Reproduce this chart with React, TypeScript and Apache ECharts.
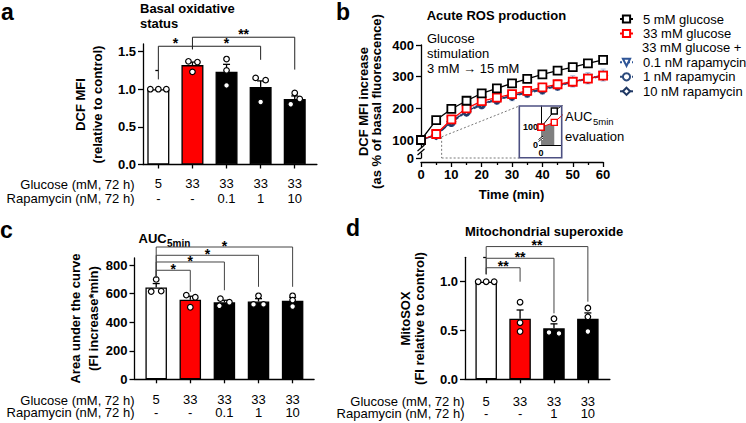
import React, { useEffect, useRef } from 'react';
import * as echarts from 'echarts';

const FONT = '"Liberation Sans", Arial, Helvetica, sans-serif';

// ---------- panel a : basal oxidative status ----------
const aGlucose = ['5', '33', '33', '33', '33'];
const aRapamycin = ['-', '-', '0.1', '1', '10'];
const aMean = [1.0, 1.32, 1.23, 1.03, 0.87];
const aSem = [0, 0.04, 0.1, 0.08, 0.04];
const aPoints = [
  [1.0, 1.0, 1.0],
  [1.37, 1.36, 1.23],
  [1.4, 1.25, 1.05],
  [1.15, 1.12, 0.83],
  [0.95, 0.87, 0.8],
];
const aYTicks = [0, 0.5, 1.0, 1.5];
const aYMinor = [0.25, 0.75, 1.25];

// ---------- panel b : acute ROS production ----------
const bTime = [0, 5, 10, 15, 20, 25, 30, 35, 40, 45, 50, 55, 60];
const bG5 = [100, 163, 198, 224, 247, 263, 279, 293, 307, 319, 330, 342, 353];
const bG33 = [100, 119, 165, 200, 223, 234, 245, 255, 266, 276, 284, 294, 303];
const bR01 = [100, 117, 160, 193, 216, 229, 240, 250, 262, 274, 285, 295, 305];
const bR1 = [100, 115, 155, 188, 211, 226, 238, 248, 258, 270, 282, 292, 302];
const bR10 = [100, 116, 158, 190, 214, 228, 240, 251, 261, 272, 284, 294, 304];
const bSemG5 = [0, 6, 7, 8, 9, 9, 10, 10, 11, 11, 12, 12, 12];
const bSemG33 = [0, 5, 6, 7, 8, 8, 9, 9, 10, 10, 11, 11, 12];
const bSemR = [0, 8, 12, 14, 15, 15, 16, 16, 17, 17, 18, 18, 19];
const bYTicks = [43.2, 100, 200, 300, 400];
const bNames = ['5 mM glucose', '33 mM glucose', '0.1 nM rapamycin', '1 nM rapamycin', '10 nM rapamycin'];

// ---------- panel c : AUC 5 min ----------
const cGlucose = ['5', '33', '33', '33', '33'];
const cRapamycin = ['-', '-', '0.1', '1', '10'];
const cMean = [644, 557, 540, 545, 550];
const cSem = [27, 25, 14, 20, 25];
const cPoints = [
  [700, 615, 618],
  [590, 575, 505],
  [565, 540, 515],
  [585, 525, 525],
  [585, 555, 510],
];
const cYTicks = [0, 200, 400, 600, 800];
const cYMinor = [100, 300, 500, 700];

// ---------- panel d : mitochondrial superoxide ----------
const dGlucose = ['5', '33', '33', '33'];
const dRapamycin = ['-', '-', '1', '10'];
const dMean = [1.0, 0.62, 0.523, 0.62];
const dSem = [0, 0.09, 0.045, 0.06];
const dPoints = [
  [1.0, 1.0, 1.0],
  [0.79, 0.58, 0.49],
  [0.62, 0.48, 0.47],
  [0.73, 0.64, 0.49],
];
const dYTicks = [0, 0.5, 1.0];
const dYMinor = [0.25, 0.75, 1.25];

// ---------- layout / style helpers (not data) ----------
const aJitter = [[-8, 0, 8], [-4, 5, 0], [0, 0, 0], [-5, 5, 0], [0, 5, -4]];
const cJitter = [[0, -5, 5], [-4, 5, 0], [-4, 5, -5], [0, -5, 5], [0, 0, 0]];
const dJitter = [[-8, 0, 8], [0, 0, 0], [0, -5, 5], [0, 0, 0]];
const barFill5 = ['#ffffff', '#ff0000', '#000000', '#000000', '#000000'];
const barFill4 = ['#ffffff', '#ff0000', '#000000', '#000000'];

const aBrackets = [
  { x1: 0, x2: 1, y: 1.57, l: 1.13, r: 1.53, label: '*' },
  { x1: 1, x2: 3, y: 1.57, l: 1.57, r: 1.39, label: '*' },
  { x1: 1, x2: 4, y: 1.69, l: 1.53, r: 1.26, label: '**' },
];
const cBrackets = [
  { x1: 0, x2: 1, y: 764, l: 710, r: 613, label: '*' },
  { x1: 0, x2: 2, y: 822, l: 710, r: 624, label: '*' },
  { x1: 0, x2: 3, y: 869, l: 710, r: 648, label: '*' },
  { x1: 0, x2: 4, y: 927, l: 710, r: 648, label: '*' },
];
const dBrackets = [
  { x1: 0, x2: 1, y: 1.143, l: 1.076, r: 1.0, label: '**' },
  { x1: 0, x2: 2, y: 1.24, l: 1.076, r: 0.676, label: '**' },
  { x1: 0, x2: 3, y: 1.36, l: 1.076, r: 0.795, label: '**' },
];

const AX = { color: '#000', width: 1.3 };

function catXAxis(gridIndex: number, min: number, max: number, g: string[], r: string[], margin: number, lh: number) {
  const idx = g.map((_, i) => i);
  return {
    type: 'value', gridIndex, min, max,
    axisLine: { show: true, onZero: false, lineStyle: AX },
    axisTick: { show: true, length: 4, customValues: idx, lineStyle: AX },
    axisLabel: {
      show: true, customValues: idx, margin, lineHeight: lh,
      formatter: (v: number) => `${g[Math.round(v)]}\n${r[Math.round(v)]}`,
      fontFamily: FONT, fontSize: 13, color: '#000',
    },
    splitLine: { show: false },
  };
}

function valYAxis(gridIndex: number, min: number, max: number, ticks: number[], fmt: (v: number) => string) {
  return {
    type: 'value', gridIndex, min, max,
    axisLine: { show: true, onZero: false, lineStyle: AX },
    axisTick: { show: true, length: 5, customValues: ticks, lineStyle: AX },
    axisLabel: { show: true, customValues: ticks, formatter: fmt, margin: 7, fontFamily: FONT, fontSize: 13, fontWeight: 'bold', color: '#000' },
    splitLine: { show: false },
  };
}

function minorYAxis(gridIndex: number, min: number, max: number, ticks: number[]) {
  return {
    type: 'value', gridIndex, min, max, position: 'left',
    axisLine: { show: false },
    axisTick: { show: true, length: 3, customValues: ticks, lineStyle: AX },
    axisLabel: { show: false },
    splitLine: { show: false },
  };
}

function barSeries(xi: number, yi: number, mean: number[], fills: string[], width: number) {
  return {
    type: 'bar', xAxisIndex: xi, yAxisIndex: yi, barWidth: width, z: 2,
    data: mean.map((m, i) => ({ value: [i, m], itemStyle: { color: fills[i], borderColor: '#000', borderWidth: 1.3 } })),
  };
}

function errSeries(xi: number, yi: number, xs: number[], mean: number[], sem: number[], color: string, cap: number, both: boolean, lw: number) {
  return {
    type: 'custom', xAxisIndex: xi, yAxisIndex: yi, z: 3, silent: true,
    data: mean.map((m, i) => [xs[i], m, sem[i]]),
    renderItem: (_p: any, api: any) => {
      const x = api.value(0), m = api.value(1), s = api.value(2);
      if (!s) return { type: 'group', children: [] };
      const pt = api.coord([x, m + s]);
      const pb = api.coord([x, both ? m - s : m]);
      const ch: any[] = [
        { type: 'line', shape: { x1: pb[0], y1: pb[1], x2: pt[0], y2: pt[1] }, style: { stroke: color, lineWidth: lw } },
        { type: 'line', shape: { x1: pt[0] - cap, y1: pt[1], x2: pt[0] + cap, y2: pt[1] }, style: { stroke: color, lineWidth: lw } },
      ];
      if (both) ch.push({ type: 'line', shape: { x1: pb[0] - cap, y1: pb[1], x2: pb[0] + cap, y2: pb[1] }, style: { stroke: color, lineWidth: lw } });
      return { type: 'group', children: ch };
    },
  };
}

function dotSeries(xi: number, yi: number, pts: number[][], jit: number[][]) {
  const data: number[][] = [];
  pts.forEach((arr, i) => arr.forEach((v, j) => data.push([i, v, jit[i][j]])));
  return {
    type: 'custom', xAxisIndex: xi, yAxisIndex: yi, z: 4, silent: true,
    data,
    renderItem: (_p: any, api: any) => {
      const p = api.coord([api.value(0), api.value(1)]);
      return { type: 'circle', shape: { cx: p[0] + api.value(2), cy: p[1], r: 2.8 }, style: { fill: '#fff', stroke: '#000', lineWidth: 1.2 } };
    },
  };
}

function lineSeries(name: string, values: number[], color: string, symbol: string, type: string, rotate = 0, size = 8) {
  return {
    name, type: 'line', xAxisIndex: 1, yAxisIndex: 1, z: 5,
    data: values.map((v, i) => [bTime[i], v]),
    symbol, symbolSize: size, symbolRotate: rotate,
    lineStyle: { color, width: 1.3, type },
    itemStyle: { color: '#fff', borderColor: color, borderWidth: 1.8 },
  };
}

function txt(text: string, x: number, y: number, o: any = {}) {
  return {
    type: 'text', x, y, z: 100, silent: true, rotation: o.rot || 0,
    style: {
      text, fill: '#000', fontFamily: FONT, fontSize: o.size || 13,
      fontWeight: o.bold ? 'bold' : 'normal', align: o.align || 'left', verticalAlign: 'middle',
    },
  };
}

function seg(x1: number, y1: number, x2: number, y2: number, stroke = '#000', lw = 1, dash?: number[]) {
  return { type: 'line', z: 100, silent: true, shape: { x1, y1, x2, y2 }, style: { stroke, lineWidth: lw, lineDash: dash } };
}

export default function App() {
  const ref = useRef<HTMLDivElement>(null);
  useEffect(() => {
    if (!ref.current) return;
    const chart = echarts.init(ref.current, null, { renderer: 'svg' });
    const fmt1 = (v: number) => v.toFixed(1);
    const option: any = {
      animation: false,
      backgroundColor: '#fff',
      textStyle: { fontFamily: FONT },
      grid: [
        { left: 143, top: 44, width: 173.9, height: 120.5, outerBoundsMode: 'none', containLabel: false },
        { left: 421, top: 45, width: 182.1, height: 113, outerBoundsMode: 'none', containLabel: false },
        { left: 134.5, top: 258, width: 179.6, height: 121.3, outerBoundsMode: 'none', containLabel: false },
        { left: 465, top: 257.3, width: 144.9, height: 122, outerBoundsMode: 'none', containLabel: false },
        { left: 541, top: 106, width: 20.7, height: 39, outerBoundsMode: 'none', containLabel: false },
      ],
      xAxis: [
        catXAxis(0, -0.45, 4.65, aGlucose, aRapamycin, 12.3, 14.3),
        {
          type: 'value', gridIndex: 1, min: 0, max: 60, interval: 10, offset: 4,
          axisLine: { show: true, onZero: false, lineStyle: AX },
          axisTick: { show: true, length: 5, lineStyle: AX },
          minorTick: { show: true, splitNumber: 2, length: 3, lineStyle: AX },
          axisLabel: { margin: 6, fontFamily: FONT, fontSize: 13, fontWeight: 'bold', color: '#000' },
          splitLine: { show: false },
        },
        catXAxis(2, -0.636, 4.63, cGlucose, cRapamycin, 14.5, 12.3),
        catXAxis(3, -0.625, 3.65, dGlucose, dRapamycin, 16.6, 11.6),
        {
          type: 'value', gridIndex: 4, min: 0, max: 7.8,
          axisLine: { show: true, onZero: false, lineStyle: { color: '#000', width: 1 } },
          axisTick: { show: false },
          axisLabel: { customValues: [0], formatter: () => '0', margin: 3, fontFamily: FONT, fontSize: 9, fontWeight: 'bold', color: '#000' },
          splitLine: { show: false },
        },
      ],
      yAxis: [
        valYAxis(0, 0, 1.6, aYTicks, fmt1),
        valYAxis(1, 43.2, 400, bYTicks, (v: number) => (v < 50 ? '0' : String(Math.round(v)))),
        valYAxis(2, 0, 850, cYTicks, (v: number) => String(v)),
        valYAxis(3, 0, 1.25, dYTicks, fmt1),
        {
          type: 'value', gridIndex: 4, min: 32, max: 182,
          axisLine: { show: true, onZero: false, lineStyle: { color: '#000', width: 1 } },
          axisTick: { show: true, length: 2, customValues: [32, 100], lineStyle: { color: '#000', width: 1 } },
          axisLabel: { customValues: [32, 100], formatter: (v: number) => (v < 50 ? '0' : '100'), margin: 3, fontFamily: FONT, fontSize: 9, fontWeight: 'bold', color: '#000' },
          splitLine: { show: false },
        },
        minorYAxis(0, 0, 1.6, aYMinor),
        minorYAxis(2, 0, 850, cYMinor),
        minorYAxis(3, 0, 1.25, dYMinor),
      ],
      legend: [
        {
          data: bNames.slice(0, 2), orient: 'vertical', left: 619, top: 12, padding: 0,
          itemWidth: 13, itemHeight: 9, itemGap: 0.5, selectedMode: false,
          textStyle: { fontFamily: FONT, fontSize: 13, color: '#000', lineHeight: 14, padding: [0, 0, 0, 5] },
        },
        {
          data: bNames.slice(2), orient: 'vertical', left: 619, top: 55.3, padding: 0,
          itemWidth: 13, itemHeight: 9, itemGap: 0.5, selectedMode: false,
          textStyle: { fontFamily: FONT, fontSize: 13, color: '#000', lineHeight: 14, padding: [0, 0, 0, 5] },
        },
      ],
      series: [
        // panel a
        barSeries(0, 0, aMean, barFill5, 22),
        errSeries(0, 0, aMean.map((_, i) => i), aMean, aSem, '#000', 3.5, false, 1.3),
        dotSeries(0, 0, aPoints, aJitter),
        // panel b
        errSeries(1, 1, bTime, bR01, bSemR, '#a7bfe0', 2.5, true, 1),
        errSeries(1, 1, bTime, bG33, bSemG33, '#ff8080', 2.5, true, 1),
        errSeries(1, 1, bTime, bG5, bSemG5, '#555', 2.5, true, 1),
        lineSeries(bNames[2], bR01, '#2f5597', 'triangle', 'dotted', 180, 7),
        lineSeries(bNames[3], bR1, '#2c4a7c', 'circle', 'dashed', 0, 7),
        lineSeries(bNames[4], bR10, '#1f3864', 'diamond', 'solid', 0, 8),
        lineSeries(bNames[1], bG33, '#ff0000', 'rect', 'solid'),
        lineSeries(bNames[0], bG5, '#000000', 'rect', 'solid'),
        // panel c
        barSeries(2, 2, cMean, barFill5, 21.5),
        errSeries(2, 2, cMean.map((_, i) => i), cMean, cSem, '#000', 3.5, false, 1.3),
        dotSeries(2, 2, cPoints, cJitter),
        // panel d
        barSeries(3, 3, dMean, barFill4, 21.5),
        errSeries(3, 3, dMean.map((_, i) => i), dMean, dSem, '#000', 3.5, false, 1.3),
        dotSeries(3, 3, dPoints, dJitter),
        // inset (AUC 5 min)
        {
          name: 'inset-area', type: 'line', xAxisIndex: 4, yAxisIndex: 4, z: 3, symbol: 'none',
          data: bG33.slice(0, 2).map((v, i) => [bTime[i], v]),
          lineStyle: { width: 0 }, areaStyle: { color: '#808080', opacity: 1, origin: 'start' },
        },
        {
          name: 'inset-5', type: 'line', xAxisIndex: 4, yAxisIndex: 4, z: 5, symbol: 'rect', symbolSize: 6,
          data: bG5.map((v, i) => [bTime[i], v]),
          lineStyle: { color: '#000', width: 1 }, itemStyle: { color: '#fff', borderColor: '#000', borderWidth: 1.4 },
        },
        {
          name: 'inset-33', type: 'line', xAxisIndex: 4, yAxisIndex: 4, z: 5, symbol: 'rect', symbolSize: 6,
          data: bG33.map((v, i) => [bTime[i], v]),
          lineStyle: { color: '#ff0000', width: 1 }, itemStyle: { color: '#fff', borderColor: '#ff0000', borderWidth: 1.4 },
        },
      ],
    };
    chart.setOption(option);

    const px = (xi: number, yi: number, p: number[]) => chart.convertToPixel({ xAxisIndex: xi, yAxisIndex: yi } as any, p) as number[];
    const brackets = (xi: number, yi: number, specs: any[], color: string, starDy: number) => {
      const out: any[] = [];
      specs.forEach((b) => {
        const pL = px(xi, yi, [b.x1, b.y]);
        const pR = px(xi, yi, [b.x2, b.y]);
        const yl = px(xi, yi, [b.x1, b.l])[1];
        const yr = px(xi, yi, [b.x2, b.r])[1];
        out.push({
          type: 'polyline', z: 100, silent: true,
          shape: { points: [[pL[0], yl], [pL[0], pL[1]], [pR[0], pR[1]], [pR[0], yr]] },
          style: { stroke: color, lineWidth: 1, fill: 'none' },
        });
        out.push(txt(b.label, (pL[0] + pR[0]) / 2, pL[1] + starDy, { bold: true, size: 14, align: 'center' }));
      });
      return out;
    };

    // zoom box indicator in panel b
    const zTop = px(1, 1, [6.8, 110]);
    const zBot = px(1, 1, [6.8, 43.2]);
    const box = { x: 519.3, y: 106, w: 42.4, h: 51.7 };

    const g: any[] = [
      // panel letters
      txt('a', 1, 11.5, { bold: true, size: 23 }),
      txt('b', 336, 11.5, { bold: true, size: 23 }),
      txt('c', 0, 230, { bold: true, size: 23 }),
      txt('d', 346, 228.4, { bold: true, size: 23 }),
      // titles
      txt('Basal oxidative', 140, 8.7, { bold: true }),
      txt('status', 140, 23.5, { bold: true }),
      txt('Acute ROS production', 426.7, 15.5, { bold: true }),
      txt('AUC', 138.5, 238.5, { bold: true }),
      txt('5min', 167, 243, { bold: true, size: 10 }),
      txt('Mitochondrial superoxide', 465, 231.5, { bold: true }),
      // y axis titles
      txt('DCF MFI', 80, 104.5, { bold: true, rot: Math.PI / 2, align: 'center' }),
      txt('(relative to control)', 97, 104.5, { bold: true, rot: Math.PI / 2, align: 'center' }),
      txt('DCF MFI increase', 363, 101.5, { bold: true, rot: Math.PI / 2, align: 'center' }),
      txt('(as % of basal fluorescence)', 376.5, 101.5, { bold: true, rot: Math.PI / 2, align: 'center' }),
      txt('Area under the curve', 75, 318.5, { bold: true, rot: Math.PI / 2, align: 'center' }),
      txt('(FI increase*min)', 93.3, 318.5, { bold: true, rot: Math.PI / 2, align: 'center' }),
      txt('MitoSOX', 405, 318.5, { bold: true, rot: Math.PI / 2, align: 'center' }),
      txt('(FI relative to control)', 419.3, 318.5, { bold: true, rot: Math.PI / 2, align: 'center' }),
      txt('Time (min)', 511.5, 194, { bold: true, align: 'center' }),
      // row titles
      txt('Glucose (mM, 72 h)', 134.5, 184, { align: 'right' }),
      txt('Rapamycin (nM, 72 h)', 134.5, 198.3, { align: 'right' }),
      txt('Glucose (mM, 72 h)', 134.5, 400, { align: 'right' }),
      txt('Rapamycin (nM, 72 h)', 134.5, 412.3, { align: 'right' }),
      txt('Glucose (mM, 72 h)', 464.5, 401.7, { align: 'right' }),
      txt('Rapamycin (nM, 72 h)', 464.5, 413.3, { align: 'right' }),
      // annotations in b
      txt('Glucose', 427, 38.3),
      txt('stimulation', 427, 53.5),
      txt('3 mM \u2192 15 mM', 427, 68.3),
      txt('AUC', 565, 116.5),
      txt('5min', 593, 121.5, { size: 9.5 }),
      txt('evaluation', 565, 136.5),
      txt('33 mM glucose +', 642, 47.7),
      // axis break marks, main b axis
      { type: 'rect', z: 99, silent: true, shape: { x: 418, y: 147.5, width: 6, height: 5 }, style: { fill: '#fff' } },
      seg(417.5, 151, 424.5, 145, '#000', 1.2),
      seg(417.5, 155, 424.5, 149, '#000', 1.2),
      // zoom indicator
      seg(zTop[0], zTop[1], zBot[0], zBot[1], '#555', 0.8, [2, 2]),
      seg(zBot[0], zBot[1], box.x, zBot[1], '#555', 0.8, [2, 2]),
      seg(zTop[0], zTop[1], box.x, box.y, '#555', 0.8, [2, 2]),
      // inset box
      { type: 'rect', z: 100, silent: true, shape: { x: box.x, y: box.y, width: box.w, height: box.h }, style: { fill: 'none', stroke: '#4d5082', lineWidth: 1.6 } },
      // inset axis break
      { type: 'rect', z: 99, silent: true, shape: { x: 539, y: 137, width: 4, height: 3 }, style: { fill: '#fff' } },
      seg(538.5, 139.5, 543, 136, '#000', 0.9),
      seg(538.5, 141.5, 543, 138, '#000', 0.9),
      ...brackets(0, 0, aBrackets, '#222', -3.5),
      ...brackets(2, 2, cBrackets, '#444', -1),
      ...brackets(3, 3, dBrackets, '#444', -1.5),
    ];
    chart.setOption({ graphic: { elements: g } });
    return () => chart.dispose();
  }, []);
  return <div ref={ref} style={{ position: 'fixed', left: 0, top: 0, width: 746, height: 423, background: '#fff' }} />;
}
